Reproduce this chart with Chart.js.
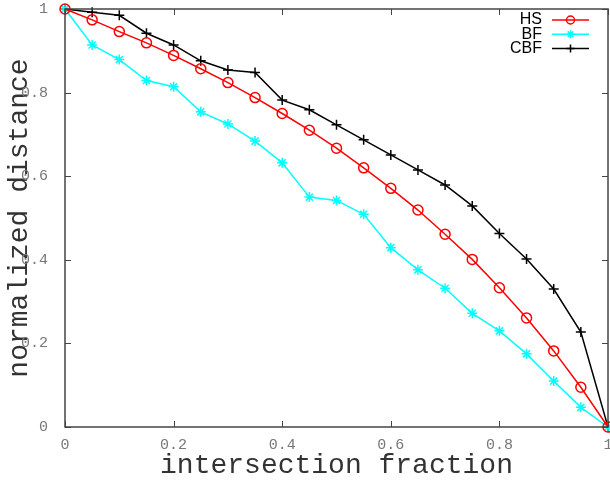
<!DOCTYPE html>
<html>
<head>
<meta charset="utf-8">
<script src="https://cdn.jsdelivr.net/npm/chart.js@4.4.1/dist/chart.umd.min.js"></script>
<style>
  html, body { margin: 0; padding: 0; background: #fff; }
  #wrap { width: 610px; height: 481px; }
</style>
</head>
<body>
<div id="wrap"><canvas id="theChart" width="610" height="481"></canvas></div>
<script>
const fractions = [0, 0.05, 0.1, 0.15, 0.2, 0.25, 0.3, 0.35, 0.4, 0.45, 0.5,
  0.55, 0.6, 0.65, 0.7, 0.75, 0.8, 0.85, 0.9, 0.95, 1];

const hsDist = [1, 0.974, 0.946, 0.919, 0.889, 0.857, 0.824, 0.788, 0.750, 0.710, 0.667,
  0.620, 0.571, 0.519, 0.461, 0.401, 0.333, 0.261, 0.182, 0.095, 0];
const bfDist = [1, 0.914, 0.879, 0.829, 0.814, 0.754, 0.725, 0.684, 0.632, 0.550, 0.542,
  0.509, 0.429, 0.376, 0.332, 0.272, 0.230, 0.175, 0.110, 0.047, 0];
const cbfDist = [1, 0.992, 0.985, 0.942, 0.914, 0.876, 0.854, 0.848, 0.782, 0.759, 0.723,
  0.687, 0.651, 0.615, 0.579, 0.529, 0.463, 0.402, 0.330, 0.227, 0];

const axisTicks = [0, 0.2, 0.4, 0.6, 0.8, 1];
const tickText = ["0", "0.2", "0.4", "0.6", "0.8", "1"];

const FRAME = "#444444";
const MONO = "'Liberation Mono', 'DejaVu Sans Mono', monospace";

function toPoints(ys) {
  return fractions.map((x, i) => ({ x: x, y: ys[i] }));
}

function series(label, ys, color, style, radius) {
  return {
    label: label,
    data: toPoints(ys),
    borderColor: color,
    backgroundColor: "rgba(0,0,0,0)",
    pointBorderColor: color,
    pointBackgroundColor: "rgba(0,0,0,0)",
    pointStyle: style,
    pointRadius: radius,
    pointBorderWidth: 1.5,
    borderWidth: 1.5,
    lineTension: 0,
    fill: false,
  };
}

// no extra room for overhanging tick labels, the layout padding handles it
function noOverhang(s) {
  s.paddingLeft = 0;
  s.paddingRight = 0;
  s.paddingTop = 0;
  s.paddingBottom = 0;
}

// box round the plot, with short inward ticks on all four sides
const frameTicks = {
  id: "frameTicks",
  afterDraw(chart) {
    const ctx = chart.ctx;
    const a = chart.chartArea;
    const xs = chart.scales.x, ys = chart.scales.y;
    ctx.save();
    ctx.strokeStyle = FRAME;
    ctx.lineWidth = 1.5;
    ctx.strokeRect(a.left, a.top, a.right - a.left, a.bottom - a.top);
    ctx.lineWidth = 1;
    const len = 6;
    ctx.beginPath();
    axisTicks.forEach((v) => {
      const px = Math.round(xs.getPixelForValue(v)) + 0.5;
      ctx.moveTo(px, a.bottom); ctx.lineTo(px, a.bottom - len);
      ctx.moveTo(px, a.top); ctx.lineTo(px, a.top + len);
      const py = Math.round(ys.getPixelForValue(v)) + 0.5;
      ctx.moveTo(a.left, py); ctx.lineTo(a.left + len, py);
      ctx.moveTo(a.right, py); ctx.lineTo(a.right - len, py);
    });
    ctx.stroke();
    ctx.restore();
  },
};

// key in the top right corner: right-aligned name, then a line sample with its marker
const keyBox = {
  id: "keyBox",
  afterDraw(chart) {
    const ctx = chart.ctx;
    const a = chart.chartArea;
    const textRight = a.right - 66;
    const lineLeft = a.right - 56;
    const lineRight = a.right - 19;
    ctx.save();
    ctx.font = "16px 'Liberation Sans', Arial, sans-serif";
    ctx.textAlign = "right";
    ctx.textBaseline = "middle";
    chart.data.datasets.forEach((ds, i) => {
      const y = a.top + 11 + i * 14.2;
      ctx.fillStyle = "#000";
      ctx.fillText(ds.label, textRight, y);
      ctx.strokeStyle = ds.borderColor;
      ctx.fillStyle = "rgba(0,0,0,0)";
      ctx.lineWidth = ds.borderWidth;
      ctx.beginPath();
      ctx.moveTo(lineLeft, y); ctx.lineTo(lineRight, y);
      ctx.stroke();
      Chart.helpers.drawPoint(ctx, {
        pointStyle: ds.pointStyle,
        radius: ds.pointRadius - 1,
        borderWidth: ds.pointBorderWidth,
        rotation: 0,
      }, (lineLeft + lineRight) / 2, y);
    });
    ctx.restore();
  },
};

const data = {
  datasets: [
    series("HS", hsDist, "#ff0000", "circle", 5),
    series("BF", bfDist, "#00ffff", "star", 5),
    series("CBF", cbfDist, "#000000", "cross", 5),
  ],
};

const tickFont = { family: MONO, size: 15 };
const titleFont = { family: MONO, size: 28 };

const config = {
  type: "line",
  data: data,
  plugins: [frameTicks, keyBox],
  options: {
    responsive: false,
    animation: false,
    clip: false,
    layout: { autoPadding: false, padding: { top: 9, right: 2, left: 0, bottom: 0 } },
    plugins: {
      legend: { display: false },
      tooltip: { enabled: false },
    },
    scales: {
      x: {
        type: "linear",
        min: 0,
        max: 1,
        afterBuildTicks: (s) => { s.ticks = axisTicks.map((v) => ({ value: v })); },
        afterFit: (s) => { s.height = 54; noOverhang(s); },
        grid: { display: false },
        border: { display: false },
        ticks: {
          font: tickFont,
          color: "#777777",
          padding: 1,
          maxRotation: 0,
          callback: (v) => tickText[axisTicks.indexOf(v)],
        },
        title: {
          display: true,
          text: "intersection fraction",
          font: titleFont,
          color: "#333333",
          padding: { top: 0, bottom: -1 },
        },
      },
      y: {
        type: "linear",
        min: 0,
        max: 1,
        afterBuildTicks: (s) => { s.ticks = axisTicks.map((v) => ({ value: v })); },
        afterFit: (s) => { s.width = 65; noOverhang(s); },
        grid: { display: false },
        border: { display: false },
        ticks: {
          font: tickFont,
          color: "#777777",
          padding: 9,
          callback: (v) => tickText[axisTicks.indexOf(v)],
        },
        title: {
          display: true,
          text: "normalized distance",
          font: titleFont,
          color: "#333333",
          padding: { top: 3, bottom: 0 },
        },
      },
    },
  },
};

const theChart = new Chart(document.getElementById("theChart"), config);
</script>
</body>
</html>
